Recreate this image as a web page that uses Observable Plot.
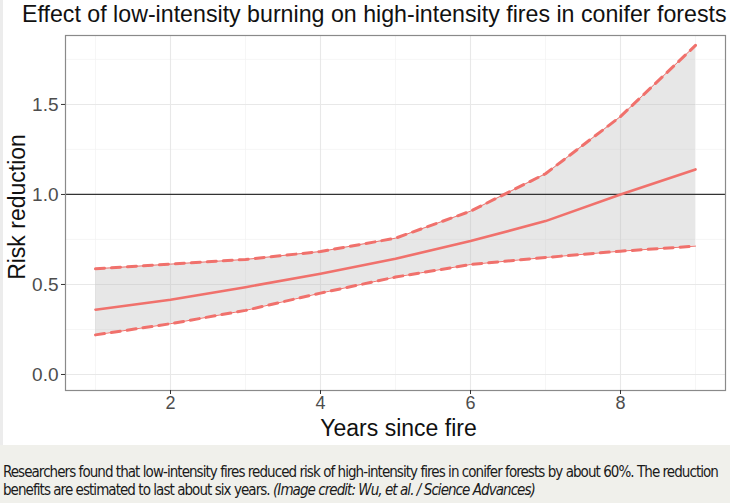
<!DOCTYPE html>
<html>
<head>
<meta charset="utf-8">
<script src="https://cdn.jsdelivr.net/npm/d3@7"></script>
<script src="https://cdn.jsdelivr.net/npm/@observablehq/plot@0.6"></script>
<style>
  html, body { margin: 0; padding: 0; background: #ffffff; }
  body { width: 730px; height: 503px; overflow: hidden; position: relative; font-family: "Liberation Sans", Arial, Helvetica, sans-serif; }
  #strip { position: absolute; left: 0; top: 0; width: 3px; height: 445px; background: #ececec; }
  #title { height: 34px; line-height: 29px; font-size: 23.2px; color: #111; padding-left: 22px; white-space: nowrap; }
  #chart svg { display: block; }
  #caption { height: 58px; background: #f0f0eb; box-sizing: border-box; padding: 19px 0 0 3px; font-family: "Liberation Sans Narrow", "DejaVu Sans Condensed", "Roboto", sans-serif; font-size: 15px; line-height: 17.5px; color: #1a1a1a; white-space: nowrap; }
  #caption i { font-style: italic; }
</style>
</head>
<body>
<div id="strip"></div>
<div id="title">Effect of low-intensity burning on high-intensity fires in conifer forests</div>
<div id="chart"></div>
<div id="caption"><span id="l1">Researchers found that low-intensity fires reduced risk of high-intensity fires in conifer forests by about 60%. The reduction</span><br><span id="l2">benefits are estimated to last about six years. <i>(Image credit: Wu, et al. / Science Advances)</i></span></div>
<script>
// ---- data ----
const years = [1, 2, 3, 4, 5, 6, 7, 8, 9];
const meanRisk = [0.36, 0.415, 0.485, 0.56, 0.643, 0.741, 0.852, 1.0, 1.139];
const upperRisk = [0.587, 0.613, 0.639, 0.683, 0.757, 0.907, 1.115, 1.433, 1.828];
const lowerRisk = [0.22, 0.282, 0.356, 0.452, 0.541, 0.611, 0.65, 0.685, 0.713];
const xTicks = [2, 4, 6, 8];
const xMinor = [1, 3, 5, 7, 9];
const yTicks = [0, 0.5, 1.0, 1.5];
const yMinor = [0.25, 0.75, 1.25, 1.75];
const refLine = [1];

const rows = years.map((y, i) => ({year: y, mean: meanRisk[i], upper: upperRisk[i], lower: lowerRisk[i]}));
const red = "#f0716c";

const chart = Plot.plot({
  width: 730,
  height: 411,
  marginTop: 1,
  marginLeft: 65,
  marginRight: 5,
  marginBottom: 55,
  x: {domain: [0.6, 9.4]},
  y: {domain: [-0.089, 1.883]},
  style: {fontFamily: "Liberation Sans, Arial, Helvetica, sans-serif", background: "white", overflow: "visible"},
  marks: [
    Plot.gridX(xMinor, {stroke: "#f2f2f2", strokeOpacity: 1, strokeWidth: 0.7}),
    Plot.gridY(yMinor, {stroke: "#f2f2f2", strokeOpacity: 1, strokeWidth: 0.7}),
    Plot.gridX(xTicks, {stroke: "#e8e8e8", strokeOpacity: 1, strokeWidth: 1.1}),
    Plot.gridY(yTicks, {stroke: "#e8e8e8", strokeOpacity: 1, strokeWidth: 1.1}),
    Plot.areaY(rows, {x: "year", y1: "lower", y2: "upper", fill: "#bdbdbd", fillOpacity: 0.36}),
    Plot.ruleY(refLine, {stroke: "#333", strokeWidth: 1.3}),
    Plot.line(rows, {x: "year", y: "upper", stroke: red, strokeWidth: 1}),
    Plot.line(rows, {x: "year", y: "upper", stroke: red, strokeWidth: 3, strokeDasharray: "9,7"}),
    Plot.line(rows, {x: "year", y: "lower", stroke: red, strokeWidth: 1}),
    Plot.line(rows, {x: "year", y: "lower", stroke: red, strokeWidth: 3, strokeDasharray: "9,7"}),
    Plot.line(rows, {x: "year", y: "mean", stroke: red, strokeWidth: 2.6}),
    Plot.frame({stroke: "#8a8a8a", strokeWidth: 1.2}),
    Plot.axisX(xTicks, {tickSize: 4, tickPadding: 2, fontSize: 18, color: "#4d4d4d", stroke: "#333", label: null}),
    Plot.axisY(yTicks, {tickSize: 4, tickPadding: 3, fontSize: 19, color: "#4d4d4d", stroke: "#333", label: null, tickFormat: d3.format(".1f")}),
    Plot.text(["Years since fire"], {frameAnchor: "bottom", dy: 45, dx: 3, fontSize: 23, fill: "#111"}),
    Plot.text(["Risk reduction"], {frameAnchor: "left", textAnchor: "middle", dx: -48, dy: -6, rotate: -90, fontSize: 23, fill: "#111"})
  ]
});
document.getElementById("chart").appendChild(chart);

// fit caption first line to the reference width
const l1 = document.getElementById("l1");
const target = 715;
const w = l1.getBoundingClientRect().width;
const n = l1.textContent.length;
const ls = (target - w) / n;
document.getElementById("caption").style.letterSpacing = ls.toFixed(3) + "px";
</script>
</body>
</html>
